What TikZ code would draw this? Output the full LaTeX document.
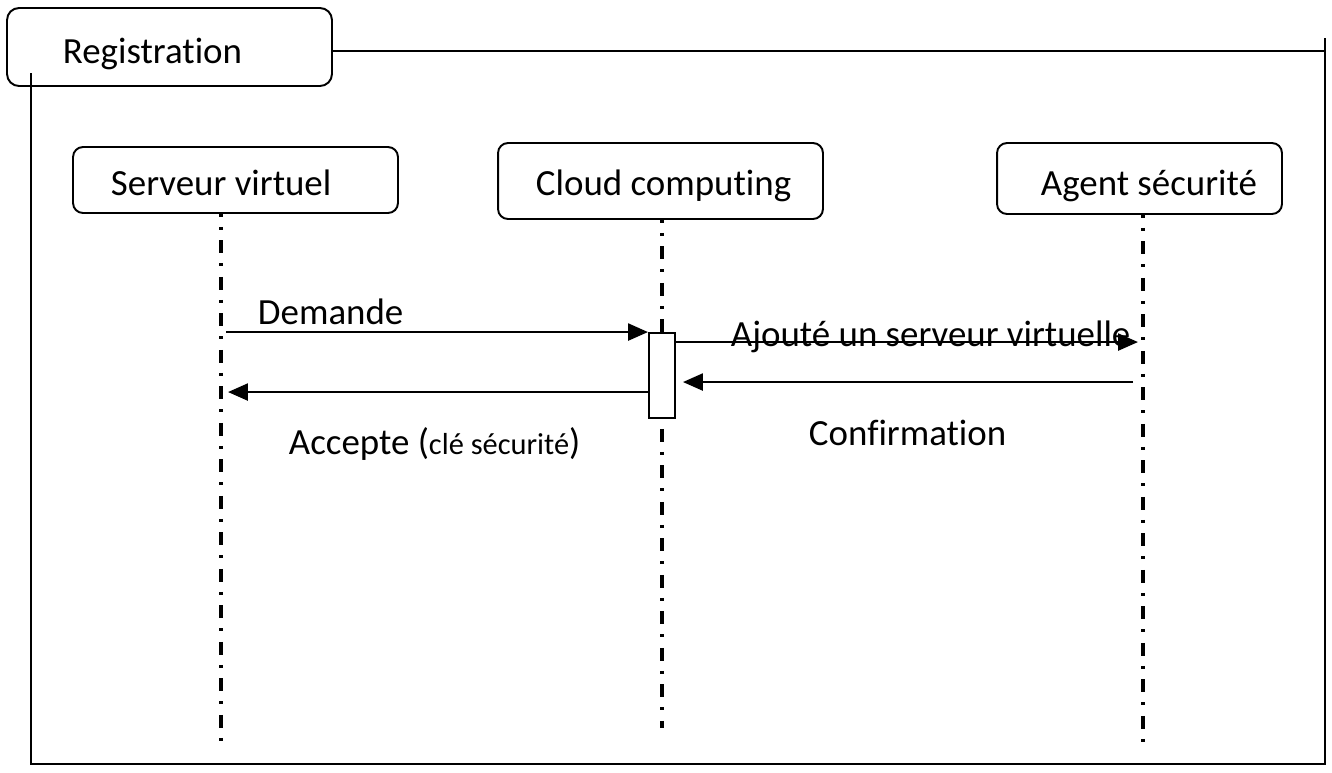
\documentclass[tikz,border=0pt]{standalone}
\usepackage{fontspec}
\setmainfont{Carlito}[Ligatures=NoCommon]
\usetikzlibrary{arrows.meta}

\begin{document}
\begin{tikzpicture}[x=0.02cm, y=-0.02cm, font=\fontsize{21}{25}\selectfont, line width=1.1pt,
  actor/.style={draw, rounded corners=0.2cm, inner sep=0pt},
  lbl/.style={anchor=base west, inner sep=0pt},
  lifeline/.style={line width=1.8pt, dash pattern=on 0.26cm off 0.2cm on 0.06cm off 0.21cm, dash phase=0.2cm},
  msg/.style={line width=1.4pt, -{Triangle[length=0.4cm,width=0.34cm]}}]
  \useasboundingbox (0,0) rectangle (1332,772);
  % frame
  \coordinate (fne) at (1325,38);
  \coordinate (fse) at (1325,764);
  \coordinate (fsw) at (31,764);
  \coordinate (fnw) at (31,73);
  \node[actor, rounded corners=0.24cm, minimum width=6.5cm, minimum height=1.56cm] (reg) at (169.5,47) {};
  \node[lbl] (reg-lbl) at (62,63) {Registration};
  \draw (reg.east |- 0,51) -- (fne |- 0,51);
  \draw (fne) -- (fse) -- (fsw) -- (fnw);
  % participants
  \foreach \n/\cx/\cy/\w/\h/\tx/\lx/\ly/\t in {
      sv/235.5/180/6.5/1.32/110/221/743/Serveur virtuel,
      cc/660.5/181/6.5/1.52/535/662/728/Cloud computing,
      as/1139.5/178.5/5.7/1.42/1040/1143/743/Agent sécurité}{
    \node[actor, minimum width=\w cm, minimum height=\h cm] (\n) at (\cx,\cy) {};
    \node[lbl] (\n-lbl) at (\tx,195) {\t};
    \coordinate (\n-end) at (\lx,\ly);
    \draw[lifeline] (\n-end |- \n.south) -- (\n-end);}
  \node[draw, fill=white, inner sep=0pt, minimum width=0.52cm, minimum height=1.7cm] (act) at (662,375.5) {};
  % message rows
  \coordinate (r2) at ([yshift=-0.2cm]act.north east);
  \coordinate (r3) at ([yshift=-1cm]act.north east);
  \coordinate (r4) at ([yshift=-1.2cm]act.north west);
  % messages
  \draw[msg, shorten <=0.1cm] (sv-end |- act.north) -- (act.north west);
  \node[lbl] (m1) at (257,324) {Demande};
  \draw[msg, shorten >=0.1cm] (r2) -- (as-end |- r2);
  \node[lbl] (m2) at (730,346) {Ajouté un serveur virtuelle};
  \draw[msg, shorten <=0.2cm, shorten >=0.14cm] (as-end |- r3) -- (r3);
  \node[lbl] (m3) at (808,445) {Confirmation};
  \draw[msg, shorten >=0.14cm] (r4) -- (sv-end |- r4);
  \node[lbl] (m4) at (288,454) {Accepte ({\fontsize{17.3}{20}\selectfont clé sécurité})};
\end{tikzpicture}
\end{document}
